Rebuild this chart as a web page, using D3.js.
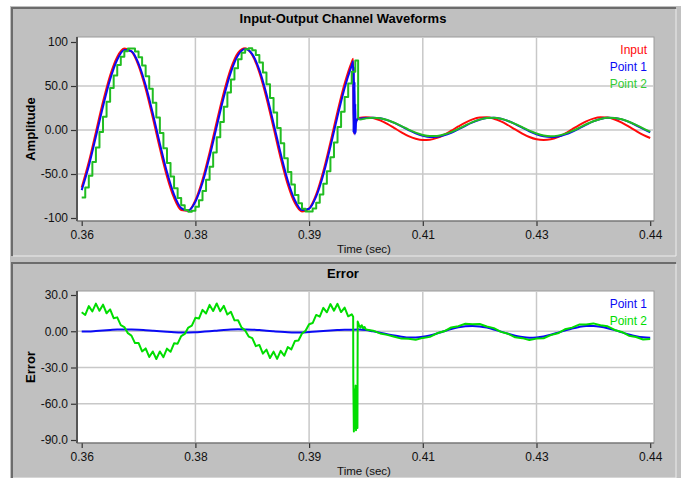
<!DOCTYPE html>
<html>
<head>
<meta charset="utf-8">
<script src="https://cdn.jsdelivr.net/npm/d3@7"></script>
<style>
  body { margin: 0; background: #fff; }
  svg { display: block; font-family: "Liberation Sans", Arial, sans-serif; }
</style>
</head>
<body>
<svg id="chart" width="694" height="478"></svg>
<script>
// ---- data (time in s, value) ----
const xTickValues = [0.36, 0.376, 0.392, 0.408, 0.424, 0.44];
const xTickLabels = ["0.36", "0.38", "0.39", "0.41", "0.43", "0.44"];
const ampTicks = [100, 50, 0, -50, -100];
const ampLabels = ["100", "50.0", "0.00", "-50.0", "-100"];
const errTicks = [30, 0, -30, -60, -90];
const errLabels = ["30.0", "0.00", "-30.0", "-60.0", "-90.0"];
const seriesNames = ["Input", "Point 1", "Point 2"];

const inputWave = [
  [0.360,-65.4],[0.361,-36.5],[0.362,-2.4],[0.363,32.0],[0.364,61.9],[0.365,83.1],[0.366,92.6],[0.367,89.2],
  [0.368,73.2],[0.369,46.9],[0.370,14.1],[0.371,-20.8],[0.372,-52.7],[0.373,-77.2],[0.374,-90.9],[0.375,-91.8],
  [0.376,-79.8],[0.377,-56.6],[0.378,-25.5],[0.379,9.2],[0.380,42.7],[0.381,70.1],[0.382,87.7],[0.383,92.9],
  [0.384,85.2],[0.385,65.4],[0.386,36.5],[0.387,2.4],[0.388,-32.0],[0.389,-61.9],[0.390,-83.1],[0.391,-92.6],
  [0.392,-89.2],[0.393,-73.2],[0.394,-46.9],[0.395,-14.1],[0.396,20.8],[0.397,52.7],[0.398,77.2],[0.3982,80.9],
  [0.3983,-4],[0.3985,8],[0.3988,12.5],
  [0.399,13.6],[0.400,14.5],[0.401,13.6],[0.402,10.9],[0.403,7.0],[0.404,2.2],[0.405,-2.6],[0.406,-6.9],
  [0.407,-9.9],[0.408,-11.4],[0.409,-11.1],[0.410,-9.0],[0.411,-5.4],[0.412,-0.8],[0.413,4.0],[0.414,8.5],
  [0.415,12.1],[0.416,14.1],[0.417,14.4],[0.418,12.8],[0.419,9.7],[0.420,5.4],[0.421,0.6],[0.422,-4.1],
  [0.423,-8.0],[0.424,-10.6],[0.425,-11.5],[0.426,-10.6],[0.427,-7.9],[0.428,-4.0],[0.429,0.8],[0.430,5.6],
  [0.431,9.9],[0.432,12.9],[0.433,14.4],[0.434,14.1],[0.435,12.0],[0.436,8.4],[0.437,3.8],[0.438,-1.0],
  [0.439,-5.5],[0.440,-9.1]
];

const point1Wave = [
  [0.360,-68.3],[0.361,-40.8],[0.362,-7.5],[0.363,26.7],[0.364,57.3],[0.365,79.8],[0.366,91.0],[0.367,89.5],
  [0.368,75.5],[0.369,50.8],[0.370,19.0],[0.371,-15.5],[0.372,-47.8],[0.373,-73.4],[0.374,-88.7],[0.375,-91.5],
  [0.376,-81.5],[0.377,-60.0],[0.378,-30.1],[0.379,4.0],[0.380,37.6],[0.381,65.8],[0.382,84.9],[0.383,92.0],
  [0.384,86.2],[0.385,68.3],[0.386,40.8],[0.387,7.5],[0.388,-26.7],[0.389,-57.3],[0.390,-79.8],[0.391,-91.0],
  [0.392,-89.5],[0.393,-75.5],[0.394,-50.8],[0.395,-19.0],[0.396,15.5],[0.397,47.8],[0.398,73.4],[0.3982,78],
  [0.39825,-3],[0.3983,72],[0.39835,-4],[0.3984,55],[0.39845,-5],[0.3985,30],[0.39855,-3],[0.3986,8],
  [0.3988,12],[0.399,12.5],[0.400,13.5],
  [0.401,14.0],[0.402,13.3],[0.403,11.2],[0.404,8.0],[0.405,4.0],[0.406,-0.1],[0.407,-3.8],[0.408,-6.5],
  [0.409,-7.9],[0.410,-7.7],[0.411,-6.1],[0.412,-3.2],[0.413,0.6],[0.414,4.8],[0.415,8.6],[0.416,11.7],
  [0.417,13.6],[0.418,13.9],[0.419,12.8],[0.420,10.2],[0.421,6.7],[0.422,2.6],[0.423,-1.4],[0.424,-4.8],
  [0.425,-7.1],[0.426,-8.0],[0.427,-7.3],[0.428,-5.2],[0.429,-2.0],[0.430,2.0],[0.431,6.1],[0.432,9.8],
  [0.433,12.5],[0.434,13.9],[0.435,13.7],[0.436,12.1],[0.437,9.2],[0.438,5.4],[0.439,1.2],[0.440,-2.6]
];

// sample-and-hold part of Point 2 before the fault
const point2Steps = [
  [0.3600,-76.6],[0.3605,-65.4],[0.3610,-51.9],[0.3615,-36.5],[0.3620,-19.8],[0.3625,-2.4],[0.3630,15.0],[0.3635,32.0],
  [0.3640,47.8],[0.3645,61.9],[0.3650,73.8],[0.3655,83.1],[0.3660,89.4],[0.3665,92.6],[0.3670,92.5],[0.3675,89.2],
  [0.3680,82.6],[0.3685,73.2],[0.3690,61.1],[0.3695,46.9],[0.3700,31.0],[0.3705,14.1],[0.3710,-3.4],[0.3715,-20.8],
  [0.3720,-37.4],[0.3725,-52.7],[0.3730,-66.1],[0.3735,-77.2],[0.3740,-85.5],[0.3745,-90.9],[0.3750,-93.0],[0.3755,-91.8],
  [0.3760,-87.3],[0.3765,-79.8],[0.3770,-69.4],[0.3775,-56.6],[0.3780,-41.8],[0.3785,-25.5],[0.3790,-8.3],[0.3795,9.2],
  [0.3800,26.4],[0.3805,42.7],[0.3810,57.4],[0.3815,70.1],[0.3820,80.3],[0.3825,87.7],[0.3830,91.9],[0.3835,92.9],
  [0.3840,90.7],[0.3845,85.2],[0.3850,76.6],[0.3855,65.4],[0.3860,51.9],[0.3865,36.5],[0.3870,19.8],[0.3875,2.4],
  [0.3880,-15.0],[0.3885,-32.0],[0.3890,-47.8],[0.3895,-61.9],[0.3900,-73.8],[0.3905,-83.1],[0.3910,-89.4],[0.3915,-92.6],
  [0.3920,-92.5],[0.3925,-89.2],[0.3930,-82.6],[0.3935,-73.2],[0.3940,-61.1],[0.3945,-46.9],[0.3950,-31.0],[0.3955,-14.1],
  [0.3960,3.4],[0.3965,20.8],[0.3970,37.4],[0.3975,52.7],[0.3980,66.1],[0.3985,79.0],[0.3989,13]
];

const point2Wave = [
  [0.3989,13],[0.3992,12],[0.400,13.2],[0.401,14.0],[0.402,13.4],[0.403,11.4],[0.404,8.2],[0.405,4.5],
  [0.406,0.5],[0.407,-3.0],[0.408,-5.6],[0.409,-6.9],[0.410,-6.7],[0.411,-5.2],[0.412,-2.4],[0.413,1.2],
  [0.414,5.2],[0.415,8.9],[0.416,11.8],[0.417,13.6],[0.418,14.0],[0.419,12.8],[0.420,10.4],[0.421,7.0],
  [0.422,3.1],[0.423,-0.7],[0.424,-3.9],[0.425,-6.2],[0.426,-7.0],[0.427,-6.4],[0.428,-4.4],[0.429,-1.2],
  [0.430,2.5],[0.431,6.5],[0.432,10.0],[0.433,12.6],[0.434,13.9],[0.435,13.7],[0.436,12.2],[0.437,9.4],
  [0.438,5.8],[0.439,1.8],[0.440,-1.9]
];

const point1Error = [
  [0.360,-0.3],[0.361,-0.2],[0.362,0.2],[0.363,0.6],[0.364,1.0],[0.365,1.4],[0.366,1.5],[0.367,1.4],
  [0.368,1.2],[0.369,0.8],[0.370,0.4],[0.371,0.0],[0.372,-0.5],[0.373,-0.9],[0.374,-1.1],[0.375,-1.0],
  [0.376,-0.8],[0.377,-0.4],[0.378,0.0],[0.379,0.5],[0.380,1.0],[0.381,1.4],[0.382,1.6],[0.383,1.5],
  [0.384,1.3],[0.385,1.0],[0.386,0.5],[0.387,0.0],[0.388,-0.5],[0.389,-0.9],[0.390,-1.1],[0.391,-1.0],
  [0.392,-0.6],[0.393,-0.2],[0.394,0.3],[0.395,0.7],[0.396,1.0],[0.397,1.2],[0.398,1.2],[0.3982,1.3],
  [0.399,1.5],[0.400,1.0],[0.401,-0.1],[0.402,-1.2],[0.403,-2.4],[0.404,-3.6],
  [0.405,-4.5],[0.406,-5.2],[0.407,-5.2],[0.408,-4.6],[0.409,-3.4],[0.410,-1.8],[0.411,0.0],[0.412,1.8],
  [0.413,3.2],[0.414,4.1],[0.415,4.4],[0.416,4.0],[0.417,3.0],[0.418,1.5],[0.419,-0.3],[0.420,-2.1],
  [0.421,-3.7],[0.422,-4.8],[0.423,-5.3],[0.424,-5.1],[0.425,-4.3],[0.426,-2.9],[0.427,-1.2],[0.428,0.6],
  [0.429,2.3],[0.430,3.6],[0.431,4.3],[0.432,4.3],[0.433,3.7],[0.434,2.5],[0.435,0.9],[0.436,-0.9],
  [0.437,-2.7],[0.438,-4.1],[0.439,-5.0],[0.440,-5.3]
];

const point2Error = [
  [0.3600,15.7],[0.3605,13.5],[0.3610,20.8],[0.3615,16.4],[0.3620,22.9],[0.3625,16.9],[0.3630,22.0],[0.3635,14.9],
  [0.3640,18.1],[0.3645,10.8],[0.3650,11.5],[0.3655,5.1],[0.3660,3.5],[0.3665,-1.6],[0.3670,-3.6],[0.3675,-9.8],
  [0.3680,-9.7],[0.3685,-16.7],[0.3690,-14.2],[0.3695,-21.3],[0.3700,-16.7],[0.3705,-23.0],[0.3710,-16.7],[0.3715,-21.5],
  [0.3720,-14.4],[0.3725,-17.0],[0.3730,-10.0],[0.3735,-10.3],[0.3740,-4.0],[0.3745,-2.2],[0.3750,3.1],[0.3755,4.7],
  [0.3760,11.1],[0.3765,10.5],[0.3770,17.7],[0.3775,14.7],[0.3780,21.8],[0.3785,16.8],[0.3790,23.0],[0.3795,16.5],
  [0.3800,21.0],[0.3805,13.8],[0.3810,16.1],[0.3815,9.0],[0.3820,9.1],[0.3825,3.0],[0.3830,0.7],[0.3835,-4.4],
  [0.3840,-5.7],[0.3845,-12.3],[0.3850,-11.3],[0.3855,-18.5],[0.3860,-15.2],[0.3865,-22.2],[0.3870,-16.9],[0.3875,-22.9],
  [0.3880,-16.2],[0.3885,-20.3],[0.3890,-13.1],[0.3895,-15.0],[0.3900,-8.1],[0.3905,-7.7],[0.3910,-1.9],[0.3915,0.4],
  [0.3920,5.8],[0.3925,6.8],[0.3930,13.5],[0.3935,12.1],[0.3940,19.4],[0.3945,15.7],[0.3950,22.5],[0.3955,17.0],
  [0.3960,22.7],[0.3965,15.9],[0.3970,19.6],[0.3975,12.4],[0.3980,14.0],[0.3982,12],
  [0.39822,-40],[0.3983,-83],[0.39835,-48],[0.3984,-80],[0.39845,-52],[0.3985,-76],[0.39855,-45],[0.3986,-82],
  [0.39865,-50],[0.3987,-74],[0.39875,-58],[0.3988,-80],[0.39884,8],[0.3990,5.5],[0.3992,3],[0.3994,5],
  [0.3996,2.5],[0.3998,3.5],[0.400,1.5],[0.401,0.5],[0.402,-1.8],[0.403,-3.0],[0.404,-4.6],
  [0.405,-6.1],[0.406,-6.25],[0.407,-7.1],[0.408,-5.5],[0.409,-4.65],[0.410,-1.7],[0.411,-0.05],[0.412,3.1],
  [0.413,4.2],[0.414,6.2],[0.415,5.8],[0.416,6.05],[0.417,3.9],[0.418,2.6],[0.419,-0.5],[0.420,-2.1],
  [0.421,-5.0],[0.422,-5.7],[0.423,-7.2],[0.424,-6.1],[0.425,-5.8],[0.426,-3.2],[0.427,-1.7],[0.428,1.6],
  [0.429,3.0],[0.430,5.5],[0.431,5.65],[0.432,6.5],[0.433,4.9],[0.434,4.05],[0.435,1.1],[0.436,-0.55],
  [0.437,-3.7],[0.438,-4.8],[0.439,-6.8],[0.440,-6.4]
];

// ---- drawing ----
const RED = "#ff0a0a", BLUE = "#0a0af5", GREEN = "#22bd22", GREEN_ERR = "#00dd00";

const svg = d3.select("#chart");

// window background
svg.append("rect").attr("x", 10).attr("y", 6).attr("width", 671).attr("height", 472).attr("fill", "#c0c0c0");

const x = d3.scaleLinear().domain([0.36, 0.44]).range([81.7, 650.2]);

function panel(box, plot, title, yLabel, y, ticks, labels, clipId) {
  const g = svg.append("g");
  g.append("rect").attr("x", box[0]).attr("y", box[1]).attr("width", box[2] - box[0]).attr("height", box[3] - box[1])
    .attr("fill", "#c0c0c0");
  // sunken border
  g.append("path").attr("d", `M${box[0] + 1},${box[3]} V${box[1] + 1} H${box[2]}`)
    .attr("fill", "none").attr("stroke", "#6c6c6c").attr("stroke-width", 2);
  g.append("path").attr("d", `M${box[2]},${box[1] + 2} V${box[3]} H${box[0] + 2}`)
    .attr("fill", "none").attr("stroke", "#ececec").attr("stroke-width", 1);

  g.append("rect").attr("x", plot.l).attr("y", plot.t).attr("width", plot.r - plot.l).attr("height", plot.b - plot.t)
    .attr("fill", "#fff").attr("stroke", "#9a9a9a").attr("stroke-width", 1);

  svg.append("clipPath").attr("id", clipId).append("rect")
    .attr("x", plot.l + 1).attr("y", plot.t + 1).attr("width", plot.r - plot.l - 2).attr("height", plot.b - plot.t - 2);

  // grid
  g.append("g").selectAll("line").data(xTickValues.slice(1, -1)).join("line")
    .attr("x1", d => x(d)).attr("x2", d => x(d)).attr("y1", plot.t + 1).attr("y2", plot.b)
    .attr("stroke", "#c8c8c8").attr("stroke-width", 1.5);
  g.append("g").selectAll("line").data(ticks.slice(1, -1)).join("line")
    .attr("x1", plot.l).attr("x2", plot.r - 1).attr("y1", d => y(d)).attr("y2", d => y(d))
    .attr("stroke", "#c8c8c8").attr("stroke-width", 1.5);

  // axes
  const xa = g.append("g").attr("transform", `translate(0,${plot.b})`)
    .call(d3.axisBottom(x).tickValues(xTickValues).tickFormat((d, i) => xTickLabels[i]).tickSize(5).tickPadding(4));
  const ya = g.append("g").attr("transform", `translate(${plot.l},0)`)
    .call(d3.axisLeft(y).tickValues(ticks).tickFormat((d, i) => labels[i]).tickSize(6).tickPadding(3));
  [xa, ya].forEach(a => {
    a.select(".domain").remove();
    a.selectAll(".tick line").attr("stroke", "#333").attr("stroke-width", 1.2);
    a.selectAll(".tick text").attr("fill", "#111").style("font-size", "12px")
      .style("font-family", "'Liberation Sans', Arial, sans-serif");
  });
  g.append("line").attr("x1", plot.l).attr("x2", plot.l).attr("y1", plot.t).attr("y2", plot.b)
    .attr("stroke", "#555").attr("stroke-width", 2);
  g.append("line").attr("x1", plot.l).attr("x2", plot.r).attr("y1", plot.b).attr("y2", plot.b)
    .attr("stroke", "#666").attr("stroke-width", 1.2);

  // texts
  g.append("text").attr("x", 343).attr("y", box[1] + 16).attr("text-anchor", "middle")
    .style("font-size", "13px").style("font-weight", "bold").text(title);
  g.append("text").attr("transform", `translate(34.5,${(plot.t + plot.b) / 2}) rotate(-90)`)
    .attr("text-anchor", "middle").style("font-size", "13px").style("font-weight", "bold").text(yLabel);
  g.append("text").attr("x", 364).attr("y", plot.b + 32).attr("text-anchor", "middle")
    .style("font-size", "11.5px").attr("fill", "#111").text("Time (sec)");

  return g.append("g").attr("clip-path", `url(#${clipId})`);
}

function wave(g, y, data, color, curve) {
  g.append("path").datum(data)
    .attr("d", d3.line().x(d => x(d[0])).y(d => y(d[1])).curve(curve))
    .attr("fill", "none").attr("stroke", color).attr("stroke-width", 2).attr("stroke-linejoin", "round");
}

function legend(names, colors, x0, y0) {
  svg.append("g").selectAll("text").data(names).join("text")
    .attr("x", x0).attr("y", (d, i) => y0 + i * 17).attr("text-anchor", "end")
    .style("font-size", "12px").attr("fill", (d, i) => colors[i]).text(d => d);
}

// top: waveforms
const yAmp = d3.scaleLinear().domain([-100, 100]).range([218, 42]);
const topPlot = panel([11, 7, 676, 256], { l: 77, r: 654, t: 37, b: 221 },
  "Input-Output Channel Waveforms", "Amplitude", yAmp, ampTicks, ampLabels, "clipTop");
wave(topPlot, yAmp, inputWave, RED, d3.curveMonotoneX);
wave(topPlot, yAmp, point1Wave, BLUE, d3.curveMonotoneX);
wave(topPlot, yAmp, point2Steps, GREEN, d3.curveStepAfter);
wave(topPlot, yAmp, point2Wave, GREEN, d3.curveMonotoneX);
legend(seriesNames, [RED, BLUE, "#33cc33"], 647, 54);

// bottom: error
const yErr = d3.scaleLinear().domain([-90, 30]).range([440, 295]);
const botPlot = panel([11, 262, 676, 478], { l: 77, r: 654, t: 291, b: 443 },
  "Error", "Error", yErr, errTicks, errLabels, "clipBot");
wave(botPlot, yErr, point1Error, BLUE, d3.curveMonotoneX);
wave(botPlot, yErr, point2Error, GREEN_ERR, d3.curveLinear);
legend(seriesNames.slice(1), [BLUE, GREEN_ERR], 647, 307.5);
</script>
</body>
</html>
